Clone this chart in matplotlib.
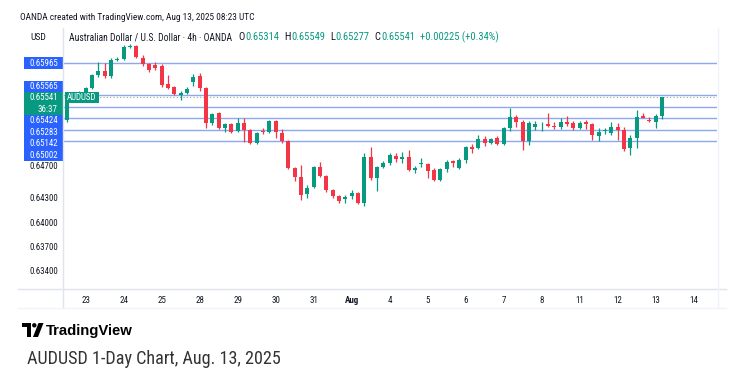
import numpy as np
import matplotlib.pyplot as plt
from matplotlib import font_manager as fm
from matplotlib.patches import Rectangle, Circle, Polygon

W, H = 745, 380
GREEN = '#089981'
RED = '#f23645'
BLUE = '#2962ff'
LEVEL = '#8ea8f0'
INK = '#131722'
EDGE = '#e0e3eb'


def pick(cands):
    for f in cands:
        try:
            fm.findfont(fm.FontProperties(family=f), fallback_to_default=False)
            return f
        except ValueError:
            pass
    return 'DejaVu Sans'


NARROW = pick(['Liberation Sans Narrow', 'Roboto Condensed', 'Arial Narrow', 'Liberation Sans'])
SANS = pick(['Liberation Sans', 'DejaVu Sans'])

# AUDUSD 4h candles, 22 Jul (last 3 bars) .. 13 Aug 2025
opens = [
    0.65261, 0.65533, 0.65558, 0.65607, 0.65657, 0.65817, 0.65867, 0.65805, 0.66002, 0.66015,
    0.66163, 0.66175, 0.66027, 0.65953, 0.65941, 0.65928, 0.65706, 0.65669, 0.65576, 0.65589,
    0.65731, 0.65805, 0.65657, 0.65224, 0.65348, 0.65163, 0.65212, 0.65126, 0.65224, 0.65138,
    0.64977, 0.65126, 0.65113, 0.65249, 0.65101, 0.65002, 0.64669, 0.64558, 0.64347, 0.64434,
    0.64681, 0.64570, 0.64397, 0.64323, 0.64286, 0.64317, 0.64360, 0.64236, 0.64804, 0.64545,
    0.64681, 0.64730, 0.64817, 0.64780, 0.64804, 0.64644, 0.64724, 0.64718, 0.64644, 0.64520,
    0.64656, 0.64755, 0.64669, 0.64767, 0.64928, 0.64916, 0.65027, 0.64983, 0.65045, 0.64965,
    0.65157, 0.65298, 0.65237, 0.65002, 0.65169, 0.65206, 0.65212, 0.65193, 0.65169, 0.65243,
    0.65230, 0.65157, 0.65237, 0.65206, 0.65064, 0.65126, 0.65107, 0.65169, 0.65144, 0.64916,
    0.65045, 0.65311, 0.65267, 0.65243, 0.65314,
]
highs = [
    0.65545, 0.65570, 0.65620, 0.65669, 0.65829, 0.65978, 0.65965, 0.66027, 0.66039, 0.66188,
    0.66200, 0.66188, 0.66064, 0.65965, 0.65978, 0.65953, 0.65817, 0.65681, 0.65614, 0.65669,
    0.65829, 0.65842, 0.65669, 0.65348, 0.65360, 0.65224, 0.65224, 0.65286, 0.65286, 0.65150,
    0.65113, 0.65163, 0.65261, 0.65261, 0.65150, 0.65014, 0.64681, 0.64706, 0.64459, 0.64693,
    0.64743, 0.64582, 0.64409, 0.64335, 0.64335, 0.64397, 0.64372, 0.64854, 0.64928, 0.64693,
    0.64755, 0.64854, 0.64854, 0.64866, 0.64891, 0.64693, 0.64792, 0.64730, 0.64669, 0.64669,
    0.64767, 0.64767, 0.64792, 0.64940, 0.64965, 0.65076, 0.65064, 0.65039, 0.65064, 0.65175,
    0.65410, 0.65323, 0.65261, 0.65249, 0.65255, 0.65237, 0.65348, 0.65237, 0.65286, 0.65305,
    0.65249, 0.65249, 0.65261, 0.65224, 0.65163, 0.65163, 0.65237, 0.65230, 0.65175, 0.65076,
    0.65385, 0.65348, 0.65298, 0.65335, 0.65549,
]
lows = [
    0.65237, 0.65521, 0.65545, 0.65595, 0.65644, 0.65792, 0.65780, 0.65780, 0.65990, 0.66002,
    0.66150, 0.66027, 0.65928, 0.65854, 0.65879, 0.65669, 0.65650, 0.65570, 0.65508, 0.65582,
    0.65681, 0.65620, 0.65163, 0.65200, 0.65150, 0.65113, 0.65101, 0.65113, 0.64990, 0.64965,
    0.64965, 0.65088, 0.65101, 0.65039, 0.64977, 0.64656, 0.64508, 0.64273, 0.64298, 0.64422,
    0.64558, 0.64372, 0.64298, 0.64236, 0.64236, 0.64286, 0.64224, 0.64199, 0.64520, 0.64385,
    0.64669, 0.64706, 0.64743, 0.64730, 0.64632, 0.64607, 0.64681, 0.64545, 0.64508, 0.64508,
    0.64619, 0.64681, 0.64656, 0.64730, 0.64854, 0.64903, 0.64940, 0.64965, 0.64953, 0.64953,
    0.65126, 0.65175, 0.64891, 0.64953, 0.65138, 0.65126, 0.65175, 0.65150, 0.65150, 0.65187,
    0.65138, 0.65150, 0.65150, 0.65014, 0.65002, 0.65088, 0.65076, 0.65014, 0.64879, 0.64829,
    0.64916, 0.65286, 0.65237, 0.65159, 0.65277,
]
closes = [
    0.65533, 0.65558, 0.65607, 0.65657, 0.65817, 0.65867, 0.65805, 0.66002, 0.66015, 0.66163,
    0.66170, 0.66039, 0.65953, 0.65879, 0.65904, 0.65694, 0.65657, 0.65582, 0.65589, 0.65650,
    0.65792, 0.65657, 0.65224, 0.65335, 0.65163, 0.65212, 0.65113, 0.65224, 0.65138, 0.64977,
    0.65101, 0.65113, 0.65249, 0.65113, 0.65002, 0.64669, 0.64558, 0.64335, 0.64422, 0.64681,
    0.64570, 0.64397, 0.64323, 0.64255, 0.64310, 0.64366, 0.64236, 0.64804, 0.64545, 0.64681,
    0.64730, 0.64829, 0.64780, 0.64804, 0.64644, 0.64669, 0.64730, 0.64632, 0.64520, 0.64656,
    0.64743, 0.64730, 0.64767, 0.64928, 0.64903, 0.65027, 0.64983, 0.65027, 0.64965, 0.65157,
    0.65298, 0.65237, 0.65002, 0.65224, 0.65212, 0.65212, 0.65187, 0.65169, 0.65243, 0.65212,
    0.65157, 0.65230, 0.65206, 0.65076, 0.65119, 0.65132, 0.65169, 0.65138, 0.64909, 0.65045,
    0.65298, 0.65292, 0.65249, 0.65311, 0.65541,
]

day_labels = ['23', '24', '25', '28', '29', '30', '31', 'Aug', '4', '5', '6',
              '7', '8', '11', '12', '13', '14']
bars_before_first_day = 3
bars_per_day = 6

levels = [0.65965, 0.65565, 0.65424, 0.65283, 0.65142, 0.65002]
last_price = 0.65541
countdown = '36:37'
y_ticks = [0.64700, 0.64300, 0.64000, 0.63700, 0.63400]

header = 'OANDA created with TradingView.com, Aug 13, 2025 08:23 UTC'
title = 'Australian Dollar / U.S. Dollar \u00b7 4h \u00b7 OANDA'
ohlc_text = [('O', '0.65314'), ('H', '0.65549'), ('L', '0.65277'), ('C', '0.65541')]
change_text = '+0.00225 (+0.34%)'
caption = 'AUDUSD 1-Day Chart, Aug. 13, 2025'

fig = plt.figure(figsize=(W / 100, H / 100), dpi=100)
fig.patch.set_facecolor('white')


def px_axes(l, t, r, b):
    return fig.add_axes([l / W, 1 - b / H, (r - l) / W, (b - t) / H])


ax = px_axes(63, 28, 717, 289)
ax.set_xlim(-0.58, 102.7)
ax.set_ylim(0.63174, 0.66398)
for s in ax.spines.values():
    s.set_visible(False)

o = np.array(opens)
h = np.array(highs)
l = np.array(lows)
c = np.array(closes)
x = np.arange(len(o))
cols = np.where(c >= o, GREEN, RED)

for lv in levels:
    ax.axhline(lv, color=LEVEL, lw=1.0, zorder=1)
ax.axhline(last_price, color='#9aa5a2', lw=0.8, ls=(0, (1, 2)), zorder=1)

ax.vlines(x, l, h, colors=cols, lw=0.9, zorder=2)
ax.bar(x, np.maximum(np.abs(c - o), 0.00012), bottom=np.minimum(o, c),
       width=0.64, color=cols, linewidth=0, zorder=3)

ticks = bars_before_first_day + bars_per_day * np.arange(len(day_labels))
ax.set_xticks(ticks)
ax.set_xticklabels(day_labels, fontsize=6.5, color=INK, family=NARROW)
for t in ax.get_xticklabels():
    if t.get_text() == 'Aug':
        t.set_fontweight('bold')
ax.tick_params(axis='x', length=0, pad=5)
ax.set_yticks(y_ticks)
ax.set_yticklabels([f'{v:.5f}' for v in y_ticks], fontsize=6.4, color=INK, family=NARROW)
ax.tick_params(axis='y', length=0, pad=3.6)

# overlay in pixel coordinates for frame, labels and texts
ov = fig.add_axes([0, 0, 1, 1])
ov.set_xlim(0, W)
ov.set_ylim(H, 0)
ov.axis('off')
ov.set_zorder(5)
ov.patch.set_visible(False)

ov.plot([63, 63], [28, 308], color=EDGE, lw=1)
ov.plot([18, 726], [289, 289], color=EDGE, lw=1)
ov.plot([18, 726], [308, 308], color='#f0f3fa', lw=1)
ov.plot([718, 718], [28, 308], color='#f0f3fa', lw=1)


def price_px(p):
    return H - ax.transData.transform((0, p))[1]


LBL = 6.4
# price scale labels: current price stays, others are pushed away from it
row = 11.5
cur = price_px(last_price)
cur_top = cur - 5.2
cur_bot = cur_top + 2 * row
ov.add_patch(Rectangle((24, cur_top), 39, cur_bot - cur_top, color=GREEN, lw=0))
ov.text(43.5, cur_top + row / 2, f'{last_price:.5f}', color='white', fontsize=LBL,
        family=NARROW, ha='center', va='center')
ov.text(57, cur_top + 1.5 * row, countdown, color='white', fontsize=LBL,
        family=NARROW, ha='right', va='center')

above = sorted([v for v in levels if v > last_price])
limit = cur_top
for v in above:
    yc = min(price_px(v), limit - row / 2)
    limit = yc - row / 2
    ov.add_patch(Rectangle((24, yc - row / 2), 39, row, color=BLUE, lw=0))
    ov.text(43.5, yc, f'{v:.5f}', color='white', fontsize=LBL, family=NARROW,
            ha='center', va='center')
below = sorted([v for v in levels if v < last_price], reverse=True)
limit = cur_bot
for v in below:
    yc = max(price_px(v), limit + row / 2)
    limit = yc + row / 2
    ov.add_patch(Rectangle((24, yc - row / 2), 39, row, color=BLUE, lw=0))
    ov.text(43.5, yc, f'{v:.5f}', color='white', fontsize=LBL, family=NARROW,
            ha='center', va='center')

# symbol tag inside the chart
ov.add_patch(Rectangle((65, cur - 5), 34, 10.5, color=GREEN, lw=0))
ov.text(82, cur + 0.3, 'AUDUSD', color='white', fontsize=LBL, family=NARROW,
        ha='center', va='center')

fig.canvas.draw()
rend = fig.canvas.get_renderer()


def fit(t, target):
    w = t.get_window_extent(renderer=rend).width
    t.set_fontsize(t.get_fontsize() * target / w)
    return t.get_fontsize()


fit(ov.text(20, 17, header, color=INK, fontsize=7, family=NARROW, va='center'), 238)
ov.text(30, 37.5, 'USD', color=INK, fontsize=6.8, family=NARROW, va='center')

tt = ov.text(69, 37.5, title, color=INK, fontsize=6.8, family=NARROW, va='center')
fs = fit(tt, 164) * 1.08


def put(xp, s, col, gap=0):
    t = ov.text(xp, 37.5, s, color=col, fontsize=fs, family=NARROW, va='center')
    return xp + t.get_window_extent(renderer=rend).width + gap


xp = 69 + 164 + 5.5
for k, v in ohlc_text:
    xp = put(xp, k, INK, 0.6)
    xp = put(xp, v, GREEN, 5)
put(xp, change_text, GREEN)

# TradingView logo
ov.add_patch(Polygon([(22, 323), (31, 323), (31, 337), (27, 337), (27, 327), (22, 327)],
                     color='black', lw=0))
ov.add_patch(Circle((34.3, 325.3), 2.2, color='black', lw=0))
ov.add_patch(Polygon([(38.5, 323), (43.5, 323), (38, 337), (33, 337)], color='black', lw=0))
fit(ov.text(45.5, 330.5, 'TradingView', color='black', fontsize=11.5, fontweight='bold',
            family=SANS, va='center'), 88)

fit(ov.text(27, 359, caption, color='#333333', fontsize=12, family=NARROW, va='center'), 253)

fig.savefig('out.png', dpi=100, facecolor='white')
